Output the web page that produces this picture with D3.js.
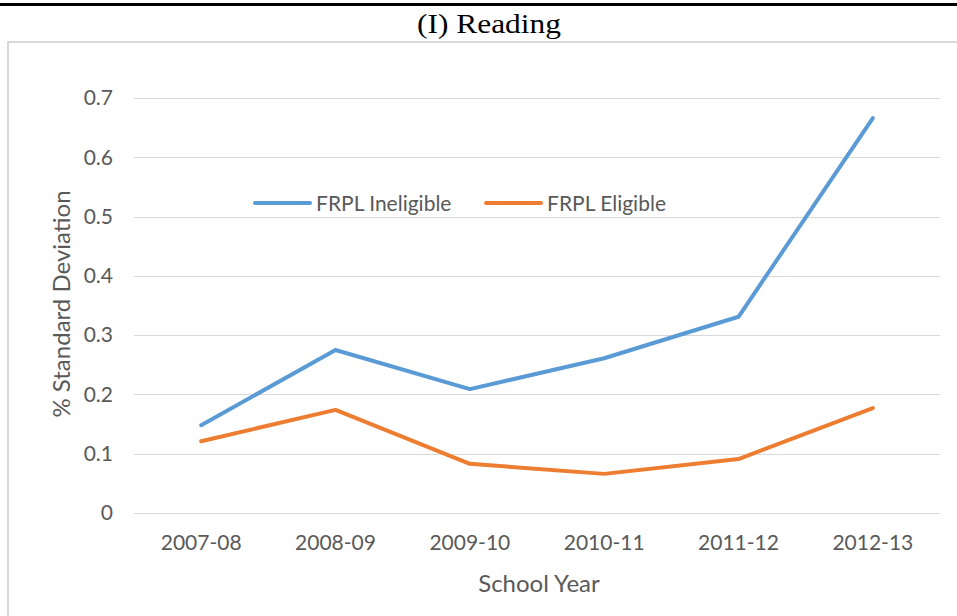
<!DOCTYPE html>
<html>
<head>
<meta charset="utf-8">
<script src="https://cdn.jsdelivr.net/npm/d3@7"></script>
<style>
  body { margin: 0; background: #fff; }
  svg { display: block; }
</style>
</head>
<body>
<svg id="chart"></svg>
<script>
const years = ["2007-08", "2008-09", "2009-10", "2010-11", "2011-12", "2012-13"];
const ineligible = [0.148, 0.275, 0.209, 0.261, 0.331, 0.666];
const eligible = [0.121, 0.174, 0.083, 0.066, 0.091, 0.177];
const yTicks = [0, 0.1, 0.2, 0.3, 0.4, 0.5, 0.6, 0.7];
const seriesNames = ["FRPL Ineligible", "FRPL Eligible"];
const seriesColors = ["#5B9BD5", "#ED7D31"];

const width = 957, height = 616;
const margin = { top: 98, right: 17, bottom: 103, left: 134 };
const font = "Lato, 'Open Sans', sans-serif";

const svg = d3.select("#chart").attr("width", width).attr("height", height);

// top rule and title
svg.append("rect").attr("x", 0).attr("y", 3).attr("width", width).attr("height", 3).attr("fill", "#000");
svg.append("text")
  .attr("x", 489).attr("y", 33)
  .attr("text-anchor", "middle")
  .attr("textLength", 144).attr("lengthAdjust", "spacingAndGlyphs")
  .style("font-family", "'Liberation Serif', 'Times New Roman', serif")
  .style("font-size", "28px")
  .text("(I) Reading");

// chart frame
svg.append("rect")
  .attr("x", 8).attr("y", 42).attr("width", 960).attr("height", 600)
  .attr("fill", "none").attr("stroke", "#d9d9d9").attr("stroke-width", 2);

const x = d3.scaleBand().domain(years).range([margin.left, width - margin.right]);
const y = d3.scaleLinear().domain([0, 0.7]).range([height - margin.bottom, margin.top]);

// gridlines
svg.append("g").selectAll("line").data(yTicks).enter().append("line")
  .attr("x1", margin.left).attr("x2", width - margin.right)
  .attr("y1", d => Math.round(y(d)) + 0.5).attr("y2", d => Math.round(y(d)) + 0.5)
  .attr("stroke", "#d9d9d9").attr("stroke-width", 1);

// y axis labels
const yAxis = svg.append("g")
  .attr("transform", "translate(" + margin.left + ",0)")
  .call(d3.axisLeft(y).tickValues(yTicks).tickSize(0).tickPadding(21).tickFormat(d => d === 0 ? "0" : d3.format(".1f")(d)));
yAxis.select(".domain").remove();
yAxis.selectAll("text").attr("fill", "#595959").style("font-family", font).style("font-size", "21px");

// x axis labels
const xAxis = svg.append("g")
  .attr("transform", "translate(0," + (height - margin.bottom) + ")")
  .call(d3.axisBottom(x).tickSize(0).tickPadding(22));
xAxis.select(".domain").remove();
xAxis.selectAll("text").attr("fill", "#595959").style("font-family", font).style("font-size", "21px");

// axis titles
svg.append("text")
  .attr("transform", "translate(70,304) rotate(-90)")
  .attr("text-anchor", "middle")
  .attr("fill", "#595959")
  .style("font-family", font).style("font-size", "24px")
  .text("% Standard Deviation");
svg.append("text")
  .attr("x", 539).attr("y", 592)
  .attr("text-anchor", "middle")
  .attr("fill", "#595959")
  .style("font-family", font).style("font-size", "24px")
  .text("School Year");

// lines
const line = d3.line()
  .x((d, i) => x(years[i]) + x.bandwidth() / 2)
  .y(d => y(d));

[ineligible, eligible].forEach((s, i) => {
  svg.append("path")
    .datum(s)
    .attr("d", line)
    .attr("fill", "none")
    .attr("stroke", seriesColors[i])
    .attr("stroke-width", 4)
    .attr("stroke-linejoin", "round")
    .attr("stroke-linecap", "round");
});

// legend
const legendX = [255, 486];
seriesNames.forEach((name, i) => {
  const g = svg.append("g").attr("transform", "translate(" + legendX[i] + ",203)");
  g.append("line").attr("x1", 0).attr("x2", 55).attr("y1", 0).attr("y2", 0)
    .attr("stroke", seriesColors[i]).attr("stroke-width", 4).attr("stroke-linecap", "round");
  g.append("text").attr("x", 61).attr("y", 8)
    .attr("fill", "#595959")
    .style("font-family", font).style("font-size", "21px")
    .text(name);
});
</script>
</body>
</html>
